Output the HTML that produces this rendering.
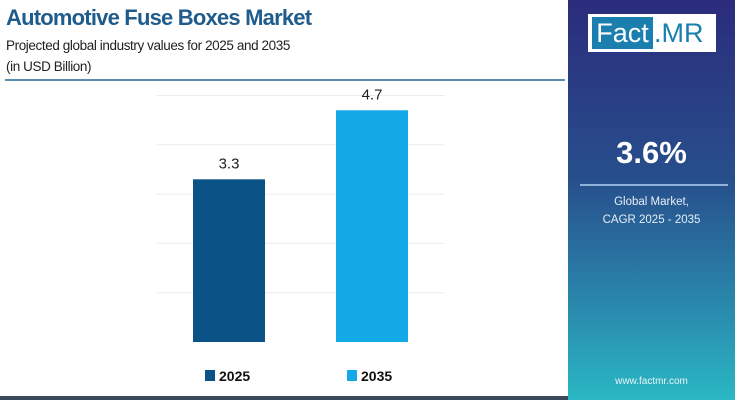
<!DOCTYPE html>
<html><head><meta charset="utf-8"><style>
body{margin:0;width:735px;height:400px;overflow:hidden;background:#fff;font-family:"Liberation Sans",sans-serif;position:relative}
.abs{position:absolute}
</style></head><body>
<div class="abs" style="left:6px;top:5px;font-size:22px;font-weight:bold;color:#1f5c8c;letter-spacing:-0.8px">Automotive Fuse Boxes Market</div>
<div class="abs" style="left:6px;top:35px;font-size:13.5px;color:#222;line-height:21px;letter-spacing:-0.4px">Projected global industry values for 2025 and 2035<br>(in USD Billion)</div>
<div class="abs" style="left:5px;top:79px;width:560px;height:2px;background:#5a8fae"></div>
<div class="abs" style="left:568px;top:0;width:167px;height:400px;background:linear-gradient(180deg,#2b2c7c 0%,#274f8c 45%,#2a8fb0 80%,#2ab8c4 100%)"></div>
<div class="abs" style="left:588px;top:14px;width:128px;height:38px;background:#fff"></div>
<div class="abs" style="left:592px;top:17px;width:61px;height:32px;background:#1a7fae;color:#fff;font-size:27px;line-height:32px;text-align:center">Fact</div>
<div class="abs" style="left:654px;top:17px;font-size:27px;line-height:32px;color:#1a7fae">.MR</div>
<div class="abs" style="left:568px;width:167px;top:135px;text-align:center;color:#fff;font-weight:bold;font-size:31px">3.6%</div>
<div class="abs" style="left:580px;top:184px;width:148px;height:2px;background:#8fb0d8"></div>
<div class="abs" style="left:568px;width:167px;top:193px;text-align:center;color:#e8eef8;font-size:11.5px;line-height:18px">Global Market,<br>CAGR 2025 - 2035</div>
<div class="abs" style="left:568px;width:167px;top:376px;text-align:center;color:#e8f4f8;font-size:10px">www.factmr.com</div>
<div class="abs" style="left:0;top:396px;width:568px;height:4px;background:#3a4a5a"></div>
<svg class="abs" style="left:0;top:0" width="568" height="400"></svg>
<script>
const categories=["2025","2035"];
const values=[3.3,4.7];
const colors=["#0b5287","#13a8e6"];
const gridTicks=[1,2,3,4,5];
const svg=document.querySelector('svg');
const NS="http://www.w3.org/2000/svg";
const base=342,unit=49.3;
const y=v=>base-v*unit;
const xs=[193,336],bw=72;
function mk(t,a){const e=document.createElementNS(NS,t);for(const k in a)e.setAttribute(k,a[k]);svg.appendChild(e);return e;}
gridTicks.forEach(t=>{const l=mk('line',{x1:157,x2:445,y1:y(t),y2:y(t),stroke:'#ececec','stroke-width':1});

});
values.forEach((v,i)=>{
const r=mk('rect',{x:xs[i],y:y(v),width:bw,height:v*unit,fill:colors[i]});


const t=mk('text',{x:xs[i]+bw/2,y:y(v)-11,'text-anchor':'middle','font-size':15,fill:'#222','font-family':'Liberation Sans'});
t.textContent=v.toFixed(1);


const lx=[205,347][i];
const s=mk('rect',{x:lx,y:370,width:10,height:11,fill:colors[i]});


const lt=mk('text',{x:lx+14,y:381,'font-size':14,'font-weight':'bold',fill:'#111','font-family':'Liberation Sans'});
lt.textContent=categories[i];


});
</script>
</body></html>
